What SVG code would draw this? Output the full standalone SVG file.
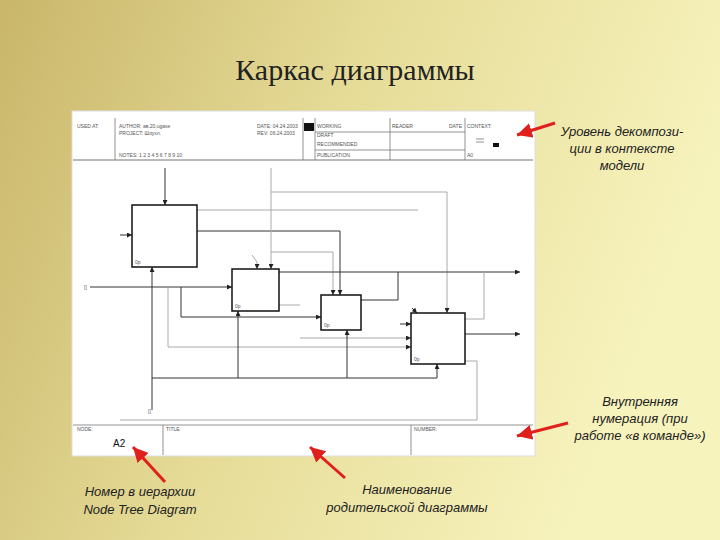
<svg xmlns="http://www.w3.org/2000/svg" width="720" height="540" viewBox="0 0 720 540">
<defs>
<linearGradient id="bg" x1="0" y1="0" x2="1" y2="0.3">
<stop offset="0" stop-color="#c9b66a"/><stop offset="0.5" stop-color="#e6dc98"/><stop offset="1" stop-color="#f7f3bd"/>
</linearGradient>
<marker id="a" viewBox="0 0 6 6" refX="6" refY="3" markerWidth="5" markerHeight="5" orient="auto"><path d="M0,0L6,3L0,6z" fill="#222"/></marker>
<marker id="r" viewBox="0 0 8 8" refX="8" refY="4" markerWidth="5" markerHeight="5" orient="auto"><path d="M0,0L8,4L0,8z" fill="#e0201c"/></marker>
</defs>
<style>
.t{font-family:"Liberation Sans",Arial,sans-serif;font-size:5px;fill:#555}
.n{font-family:"Liberation Sans",Arial,sans-serif;font-style:italic;font-size:13px;fill:#222;text-anchor:middle}
.f{stroke:#777;stroke-width:0.8;fill:none}
.b{fill:#fff;stroke:#111;stroke-width:1.5}
.c{stroke:#333;stroke-width:1;fill:none}
.g{stroke:#aaa;stroke-width:1;fill:none}
.rd{stroke:#e0201c;stroke-width:3;fill:none}
</style>
<rect width="720" height="540" fill="url(#bg)"/>
<text x="355" y="80" text-anchor="middle" font-family="Liberation Serif,serif" font-size="30" fill="#222">Каркас диаграммы</text>
<g id="frame">
<rect x="72" y="111" width="463" height="345" fill="#fff" stroke="#ddd"/>
<line class="f" x1="115" y1="118" x2="115" y2="160"/>
<line class="f" x1="303" y1="118" x2="303" y2="160"/>
<line class="f" x1="315" y1="118" x2="315" y2="160"/>
<line class="f" x1="390" y1="118" x2="390" y2="160"/>
<line class="f" x1="465" y1="118" x2="465" y2="160"/>
<line class="f" x1="315" y1="132" x2="465" y2="132"/>
<line class="f" x1="315" y1="150" x2="465" y2="150"/>
<rect x="304" y="123" width="10" height="8" fill="#111"/>
<line x1="73" y1="160" x2="533" y2="160" stroke="#777" stroke-width="1.2"/>
<text class="t" x="77" y="128">USED AT:</text>
<text class="t" x="119" y="128">AUTHOR: ав.20.ugase</text>
<text class="t" x="119" y="135">PROJECT: Шоухл.</text>
<text class="t" x="119" y="157">NOTES: 1 2 3 4 5 6 7 8 9 10</text>
<text class="t" x="257" y="128">DATE: 04.24.2003</text>
<text class="t" x="257" y="135">REV: 06.24.2003</text>
<text class="t" x="317" y="128">WORKING</text>
<text class="t" x="317" y="137">DRAFT</text>
<text class="t" x="317" y="146">RECOMMENDED</text>
<text class="t" x="317" y="157">PUBLICATION</text>
<text class="t" x="392" y="128">READER</text>
<text class="t" x="449" y="128">DATE</text>
<text class="t" x="467" y="128">CONTEXT:</text>
<text class="t" x="467" y="157">A0</text>
<rect x="493" y="143" width="6" height="4" fill="#111"/>
<line class="f" x1="476" y1="139" x2="484" y2="139"/>
<line class="f" x1="476" y1="142" x2="484" y2="142"/>
<line class="f" x1="73" y1="425" x2="533" y2="425"/>
<line class="f" x1="163" y1="425" x2="163" y2="455"/>
<line class="f" x1="411" y1="425" x2="411" y2="455"/>
<text class="t" x="77" y="431">NODE:</text>
<text class="t" x="166" y="431">TITLE:</text>
<text class="t" x="414" y="431">NUMBER:</text>
<text x="113" y="447" font-family="Liberation Sans,Arial,sans-serif" font-size="10" fill="#111">A2</text>
</g>
<g id="connectors">
<path class="c" d="M165,168V205" marker-end="url(#a)"/>
<path class="c" d="M120,235H132" marker-end="url(#a)"/>
<path class="g" d="M197,210H418"/>
<path class="c" d="M197,231H340V295" marker-end="url(#a)"/>
<path class="g" d="M271,168V269" marker-end="url(#a)"/>
<path class="g" d="M271,192H447V313" marker-end="url(#a)"/>
<path class="g" d="M271,252H333V295" marker-end="url(#a)"/>
<path class="g" d="M252,255L257,262V269" marker-end="url(#a)"/>
<path class="c" d="M90,287H232" marker-end="url(#a)"/>
<path class="c" d="M181,287V317H321" marker-end="url(#a)"/>
<path class="g" d="M168,287V347H411" marker-end="url(#a)"/>
<path class="c" d="M279,272H520" marker-end="url(#a)"/>
<path class="c" d="M361,300H398V272"/>
<path class="g" d="M465,319H484V272"/>
<path class="c" d="M465,334H520" marker-end="url(#a)"/>
<path class="g" d="M279,305H300"/>
<path class="g" d="M300,338H411" marker-end="url(#a)"/>
<path class="c" d="M400,324H411" marker-end="url(#a)"/>
<path class="c" d="M412,308L417,313" marker-end="url(#a)"/>
<path class="c" d="M152,410V267" marker-end="url(#a)"/>
<path class="c" d="M152,378H437V364" marker-end="url(#a)"/>
<path class="c" d="M238,378V311" marker-end="url(#a)"/>
<path class="c" d="M347,378V330" marker-end="url(#a)"/>
<path class="g" d="M465,361H477V420H120"/>
<text class="t" x="84" y="289" font-size="9">[]</text>
<text class="t" x="148" y="413" font-size="9">[]</text>
</g>
<g id="box1"><rect class="b" x="132" y="205" width="65" height="62"/><text class="t" x="135" y="264">0р</text></g>
<g id="box2"><rect class="b" x="232" y="269" width="47" height="42"/><text class="t" x="235" y="308">0р</text></g>
<g id="box3"><rect class="b" x="321" y="295" width="40" height="35"/><text class="t" x="324" y="327">0р</text></g>
<g id="box4"><rect class="b" x="411" y="313" width="54" height="51"/><text class="t" x="414" y="361">0р</text></g>
<g id="notes">
<text class="n" x="622" y="136">Уровень декомпози-</text>
<text class="n" x="622" y="153">ции в контексте</text>
<text class="n" x="622" y="170">модели</text>
<text class="n" x="640" y="406">Внутренняя</text>
<text class="n" x="640" y="423">нумерация (при</text>
<text class="n" x="640" y="440">работе «в команде»)</text>
<text class="n" x="140" y="496">Номер в иерархии</text>
<text class="n" x="140" y="514">Node Tree Diagram</text>
<text class="n" x="407" y="494">Наименование</text>
<text class="n" x="407" y="512">родительской диаграммы</text>
<path class="rd" d="M555,123L517,135" marker-end="url(#r)"/>
<path class="rd" d="M568,423L517,436" marker-end="url(#r)"/>
<path class="rd" d="M165,482L133,447" marker-end="url(#r)"/>
<path class="rd" d="M345,478L310,447" marker-end="url(#r)"/>
</g>
</svg>
